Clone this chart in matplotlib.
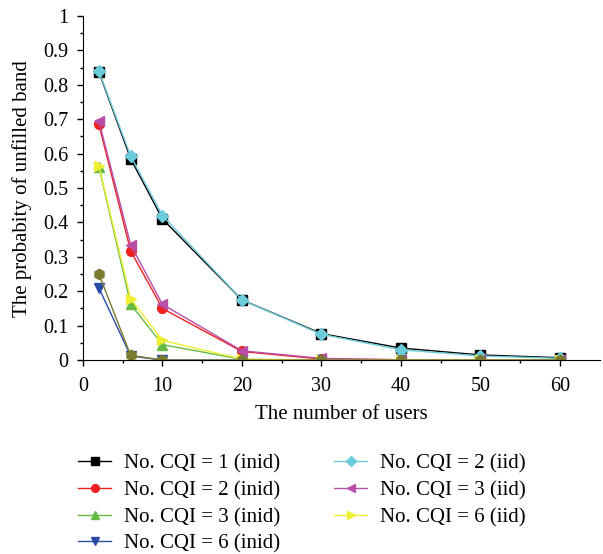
import matplotlib
matplotlib.use('Agg')
import matplotlib.pyplot as plt
import numpy as np

plt.rcParams['font.family'] = ['Liberation Serif', 'DejaVu Serif']

users = [2, 6, 10, 20, 30, 40, 50, 60]

inid_1 = [0.838, 0.585, 0.41, 0.175, 0.077, 0.035, 0.015, 0.007]
inid_2 = [0.685, 0.317, 0.15, 0.025, 0.003, 0.001, 0.0, 0.0]
inid_3 = [0.562, 0.162, 0.045, 0.002, 0.0, 0.0, 0.0, 0.0]
inid_6 = [0.21, 0.012, 0.0, 0.0, 0.0, 0.0, 0.0, 0.0]
iid_2 = [0.84, 0.593, 0.42, 0.175, 0.075, 0.03, 0.012, 0.005]
iid_3 = [0.695, 0.335, 0.162, 0.027, 0.005, 0.001, 0.0, 0.0]
iid_6 = [0.565, 0.178, 0.057, 0.003, 0.0, 0.0, 0.0, 0.0]
extra = [0.25, 0.014, 0.0, 0.0, 0.0, 0.0, 0.0, 0.0]

fig = plt.figure(figsize=(6.03, 5.54), dpi=100)
ax = fig.add_axes([0.1376, 0.350, 0.857, 0.621])

ms = 7
ax.plot(users, inid_1, color='black', marker='s', ms=ms - 0.5, lw=1, label='No. CQI = 1 (inid)')
ax.plot(users, inid_2, color='#ee2020', marker='o', ms=ms, lw=1, label='No. CQI = 2 (inid)')
ax.plot(users, inid_3, color='#66bb44', marker='^', ms=ms, lw=1, label='No. CQI = 3 (inid)')
ax.plot(users, inid_6, color='#2a4aa8', marker='v', ms=ms, lw=1, label='No. CQI = 6 (inid)')
ax.plot(users, iid_2, color='#6ccbd8', marker='D', ms=ms - 0.5, lw=1, label='No. CQI = 2 (iid)')
ax.plot(users, iid_3, color='#b84ea8', marker='<', ms=ms + 0.5, lw=1, label='No. CQI = 3 (iid)')
ax.plot(users, iid_6, color='#eeee33', marker='>', ms=ms + 0.5, lw=1, label='No. CQI = 6 (iid)')
ax.plot(users, extra, color='#7a7a30', marker='h', ms=ms + 0.5, lw=1)

ax.set_xlim(0, 65)
ax.set_ylim(0, 1)
ax.set_xticks([0, 10, 20, 30, 40, 50, 60])
ax.set_xticks([5, 15, 25, 35, 45, 55], minor=True)
ax.set_yticks(np.arange(0, 1.01, 0.1))
ax.set_yticklabels(['0', '0.1', '0.2', '0.3', '0.4', '0.5', '0.6', '0.7', '0.8', '0.9', '1'])
ax.set_yticks(np.arange(0.05, 1.0, 0.1), minor=True)
ax.tick_params(direction='out', labelsize=14.5, length=4.5, width=1)
ax.tick_params(which='minor', direction='out', length=2.5, width=1)
ax.tick_params(axis='x', pad=8)
ax.tick_params(axis='y', pad=6)
ax.spines['top'].set_visible(False)
ax.spines['right'].set_visible(False)

ax.set_xlabel('The number of users', fontsize=15, labelpad=6)
ax.set_ylabel('The probabity of unfilled band', fontsize=15, labelpad=8)

fig.legend(loc='upper left', bbox_to_anchor=(0.098, 0.214), ncol=2, frameon=False,
           fontsize=15, handlelength=1.6, handletextpad=0.6, columnspacing=2.6,
           labelspacing=0.34, markerscale=0.8)

fig.savefig('out.png', dpi=100)
